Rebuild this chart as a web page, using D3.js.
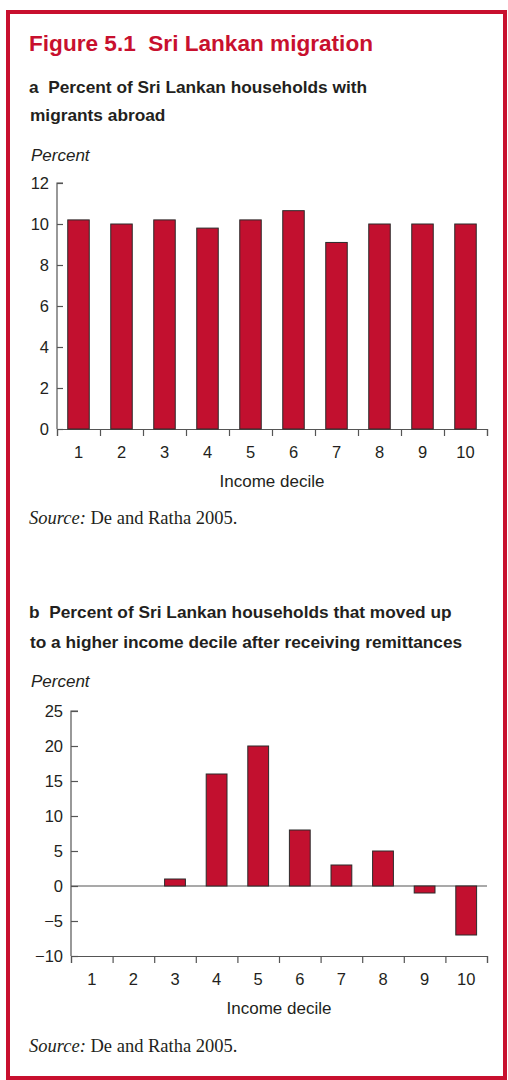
<!DOCTYPE html>
<html>
<head>
<meta charset="utf-8">
<script src="https://cdn.jsdelivr.net/npm/d3@7"></script>
<style>
  html, body { margin: 0; padding: 0; background: #fff; }
  svg { display: block; }
  text { white-space: pre; }
  .sans { font-family: "Liberation Sans", Arial, Helvetica, sans-serif; }
  .serif { font-family: "Liberation Serif", "Times New Roman", serif; }
</style>
</head>
<body>
<svg id="chart" width="508" height="1080"></svg>
<script>
// ---------- data ----------
const deciles = ["1", "2", "3", "4", "5", "6", "7", "8", "9", "10"];
const pctWithMigrants = [10.2, 10.0, 10.2, 9.8, 10.2, 10.65, 9.1, 10.0, 10.0, 10.0];
const pctMovedUp = [0, 0, 1, 16, 20, 8, 3, 5, -1, -7];
const ticksA = [0, 2, 4, 6, 8, 10, 12];
const ticksB = [-10, -5, 0, 5, 10, 15, 20, 25];

const titleText = "Figure 5.1  Sri Lankan migration";
const subA = ["a  Percent of Sri Lankan households with", "migrants abroad"];
const subB = ["b  Percent of Sri Lankan households that moved up", "to a higher income decile after receiving remittances"];
const yTitle = "Percent";
const xTitle = "Income decile";

// ---------- styles ----------
const RED = "#c8102e";
const BAR = "#c2102f";
const TEXT = "#231f20";
const AXIS = "#555";

const svg = d3.select("#chart");

// frame
svg.append("rect")
  .attr("x", 8).attr("y", 12).attr("width", 497).attr("height", 1066)
  .attr("fill", "none").attr("stroke", RED).attr("stroke-width", 4);

// title
svg.append("text").attr("class", "sans")
  .attr("x", 29).attr("y", 51)
  .attr("font-size", 22.6).attr("font-weight", "bold").attr("fill", RED)
  .text(titleText);

function fmtMinus(v) { return v < 0 ? "\u2212" + Math.abs(v) : String(v); }

function panel(opts) {
  const g = svg.append("g");
  // subtitle
  opts.sub.forEach((s, i) => {
    g.append("text").attr("class", "sans")
      .attr("x", i === 0 ? 29 : 30).attr("y", opts.subY[i])
      .attr("font-size", 17.3).attr("font-weight", "bold").attr("fill", TEXT)
      .text(s);
  });
  // y title
  g.append("text").attr("class", "sans")
    .attr("x", 31).attr("y", opts.pctY)
    .attr("font-size", 17).attr("font-style", "italic").attr("fill", TEXT)
    .text(yTitle);

  const x = d3.scaleBand().domain(deciles).range([opts.left, opts.right])
    .paddingInner(0.5).paddingOuter(0.25);
  const y = d3.scaleLinear().domain(opts.domain).range([opts.bottom, opts.top]);
  const edge = d3.scaleLinear().domain([0, deciles.length]).range([opts.left, opts.right]);

  // y axis
  const ya = g.append("g").attr("transform", `translate(${opts.left},0)`)
    .call(d3.axisRight(y).tickValues(opts.ticks).tickSize(opts.tickIn).tickFormat(""));
  ya.select(".domain").attr("d", `M${opts.tickIn},${y(opts.domain[1])}H0V${y(opts.domain[0])}`);
  ya.selectAll("path, line").attr("stroke", AXIS).attr("stroke-width", 1.2);
  g.selectAll(".ylab").data(opts.ticks).enter().append("text").attr("class", "sans ylab")
    .attr("x", opts.left - 8).attr("y", d => y(d)).attr("dy", "0.36em")
    .attr("text-anchor", "end").attr("font-size", 16.5).attr("fill", TEXT)
    .text(d => fmtMinus(d));

  // x axis (boundary ticks)
  const xa = g.append("g").attr("transform", `translate(0,${y(opts.domain[0])})`)
    .call(d3.axisBottom(edge).tickValues(d3.range(0, deciles.length + 1)).tickSize(7).tickSizeOuter(7).tickFormat(""));
  xa.selectAll("path, line").attr("stroke", AXIS).attr("stroke-width", 1.2);
  g.selectAll(".xlab").data(deciles).enter().append("text").attr("class", "sans xlab")
    .attr("x", d => x(d) + x.bandwidth() / 2).attr("y", opts.xlabY)
    .attr("text-anchor", "middle").attr("font-size", 16.5).attr("fill", TEXT)
    .text(d => d);
  g.append("text").attr("class", "sans")
    .attr("x", (opts.left + opts.right) / 2).attr("y", opts.xTitleY)
    .attr("text-anchor", "middle").attr("font-size", 17).attr("fill", TEXT)
    .text(xTitle);

  // zero line
  if (opts.domain[0] < 0) {
    g.append("line").attr("x1", opts.left).attr("x2", opts.right)
      .attr("y1", y(0)).attr("y2", y(0))
      .attr("stroke", AXIS).attr("stroke-width", 1.2);
  }

  // bars
  g.selectAll(".bar").data(opts.values.map((v, i) => ({ k: deciles[i], v })).filter(d => d.v !== 0))
    .enter().append("rect").attr("class", "bar")
    .attr("x", d => x(d.k)).attr("width", x.bandwidth())
    .attr("y", d => y(Math.max(0, d.v)))
    .attr("height", d => Math.abs(y(d.v) - y(0)))
    .attr("fill", BAR).attr("stroke", "#2b2b2b").attr("stroke-width", 1);

  // source
  const src = g.append("text").attr("class", "serif")
    .attr("x", 29).attr("y", opts.srcY).attr("font-size", 18.5).attr("fill", TEXT);
  src.append("tspan").attr("font-style", "italic").text("Source:");
  src.append("tspan").text(" De and Ratha 2005.");
}

panel({
  sub: subA, subY: [93, 121], pctY: 161,
  left: 57, right: 487, top: 183, bottom: 429,
  domain: [0, 12], ticks: ticksA, tickIn: 6,
  values: pctWithMigrants,
  xlabY: 458, xTitleY: 487, srcY: 524
});

panel({
  sub: subB, subY: [618, 648], pctY: 687,
  left: 71, right: 487, top: 711, bottom: 956,
  domain: [-10, 25], ticks: ticksB, tickIn: 7,
  values: pctMovedUp,
  xlabY: 985, xTitleY: 1014, srcY: 1052
});
</script>
</body>
</html>
